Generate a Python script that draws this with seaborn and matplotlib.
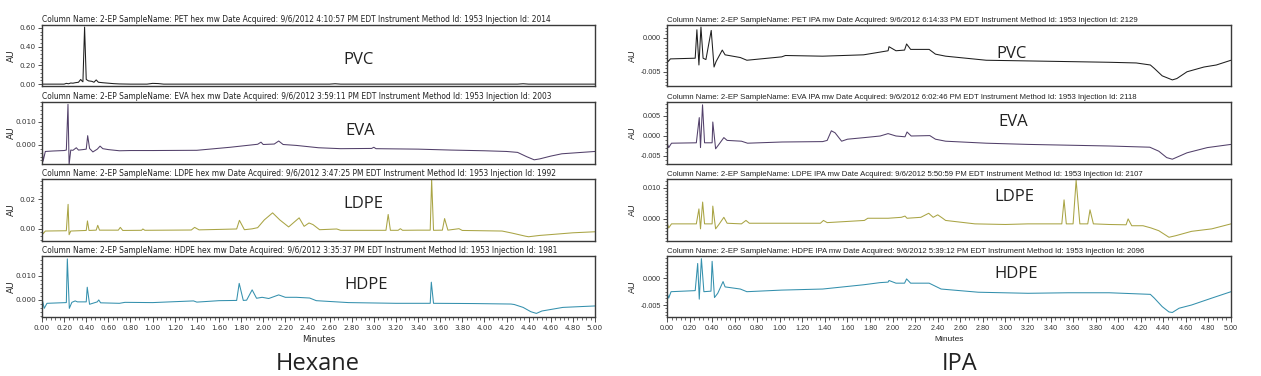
import matplotlib
matplotlib.use("Agg")
import matplotlib.pyplot as plt
from matplotlib.ticker import AutoMinorLocator, MultipleLocator, FormatStrFormatter
import seaborn as sns

# ---- chromatogram traces (minutes, AU) ----
hex_pvc_t = [0.00, 0.20, 0.22, 0.24, 0.26, 0.28, 0.30, 0.33, 0.35, 0.36, 0.37, 0.385, 0.40, 0.42, 0.45,
             0.47, 0.49, 0.51, 0.55, 0.60, 0.65, 0.70, 0.80, 0.95, 1.00, 1.05, 1.10, 1.50, 2.60, 2.65,
             2.70, 4.30, 4.35, 4.40, 5.00]
hex_pvc_au = [0.000, 0.000, 0.008, 0.004, 0.012, 0.010, 0.015, 0.020, 0.050, 0.035, 0.025, 0.610, 0.050,
              0.035, 0.030, 0.020, 0.045, 0.020, 0.015, 0.010, 0.005, 0.002, 0.000, 0.000, 0.008, 0.006,
              0.000, 0.000, 0.000, 0.004, 0.000, 0.000, 0.004, 0.000, 0.000]

hex_eva_t = [0.00, 0.01, 0.03, 0.10, 0.20, 0.22, 0.235, 0.245, 0.26, 0.28, 0.31, 0.33, 0.37, 0.40, 0.413,
             0.43, 0.46, 0.50, 0.525, 0.55, 0.60, 0.70, 0.80, 1.00, 1.40, 1.70, 1.95, 1.98, 2.00, 2.10,
             2.14, 2.18, 2.30, 2.50, 2.70, 2.98, 3.00, 3.02, 3.40, 3.70, 4.00, 4.20, 4.30, 4.38, 4.45,
             4.50, 4.60, 4.70, 4.85, 5.00]
hex_eva_au = [0.0010, -0.0070, -0.0028, -0.0026, -0.0024, -0.0022, 0.0175, -0.0085, -0.0022, -0.0023,
              -0.0012, -0.0022, -0.0020, -0.0018, 0.0040, -0.0015, -0.0030, -0.0018, -0.0005, -0.0016,
              -0.0020, -0.0025, -0.0024, -0.0024, -0.0023, -0.0010, 0.0003, 0.0012, 0.0002, 0.0004,
              0.0017, 0.0002, -0.0002, -0.0012, -0.0016, -0.0015, -0.0010, -0.0016, -0.0018, -0.0022,
              -0.0025, -0.0028, -0.0032, -0.0050, -0.0064, -0.0060, -0.0048, -0.0038, -0.0033, -0.0028]

hex_ldpe_t = [0.00, 0.01, 0.03, 0.22, 0.236, 0.245, 0.26, 0.40, 0.411, 0.425, 0.49, 0.504, 0.52, 0.69,
              0.708, 0.73, 0.90, 0.912, 0.93, 1.35, 1.38, 1.42, 1.60, 1.76, 1.785, 1.83, 1.90, 1.95, 2.01,
              2.085, 2.15, 2.23, 2.325, 2.37, 2.414, 2.45, 2.51, 2.665, 2.70, 3.11, 3.13, 3.15, 3.22,
              3.24, 3.26, 3.40, 3.51, 3.523, 3.54, 3.62, 3.64, 3.67, 3.77, 3.80, 4.16, 4.25, 4.37, 4.40,
              4.50, 4.62, 4.80, 5.00]
hex_ldpe_au = [-0.0010, -0.0035, -0.0016, -0.0014, 0.0166, -0.0041, -0.0016, -0.0012, 0.0053, -0.0012,
               -0.0010, 0.0023, -0.0010, -0.0010, 0.0009, -0.0012, -0.0011, -0.0002, -0.0011, -0.0009,
               0.0009, -0.0008, -0.0005, -0.0002, 0.0057, -0.0007, -0.0001, 0.0007, 0.0060, 0.0108,
               0.0060, 0.0012, 0.0074, 0.0016, 0.0039, 0.0028, -0.0007, -0.0002, -0.0011, -0.0011,
               0.0097, -0.0011, -0.0011, 0.0000, -0.0011, -0.0010, -0.0010, 0.0335, -0.0011, -0.0010,
               0.0069, -0.0010, 0.0000, -0.0012, -0.0016, -0.0030, -0.0051, -0.0055, -0.0046, -0.0039,
               -0.0028, -0.0021]

hex_hdpe_t = [0.00, 0.02, 0.045, 0.22, 0.229, 0.247, 0.27, 0.30, 0.32, 0.40, 0.409, 0.43, 0.50, 0.513,
              0.53, 0.70, 0.75, 1.00, 1.37, 1.40, 1.60, 1.76, 1.783, 1.82, 1.85, 1.90, 1.94, 1.99, 2.05,
              2.14, 2.20, 2.30, 2.42, 2.48, 2.77, 3.20, 3.51, 3.52, 3.54, 3.90, 4.24, 4.27, 4.35, 4.42,
              4.47, 4.52, 4.71, 5.00]
hex_hdpe_au = [0.0007, -0.0035, -0.0014, -0.0011, 0.0171, -0.0035, -0.0010, -0.0004, -0.0008, -0.0008,
               0.0053, -0.0018, -0.0008, 0.0000, -0.0012, -0.0014, -0.0010, -0.0011, -0.0004, -0.0009,
               -0.0003, -0.0002, 0.0069, -0.0002, -0.0001, 0.0042, 0.0007, 0.0011, 0.0006, 0.0021,
               0.0011, 0.0011, 0.0008, -0.0003, -0.0011, -0.0014, -0.0014, 0.0074, -0.0014, -0.0015,
               -0.0017, -0.0019, -0.0031, -0.0049, -0.0056, -0.0046, -0.0031, -0.0025]

ipa_pvc_t = [0.00, 0.01, 0.03, 0.25, 0.265, 0.283, 0.301, 0.32, 0.345, 0.392, 0.417, 0.435, 0.49, 0.515,
             0.65, 0.708, 1.017, 1.05, 1.38, 1.743, 1.888, 1.96, 1.968, 2.03, 2.106, 2.124, 2.16, 2.25,
             2.324, 2.38, 2.47, 2.83, 3.20, 3.56, 3.92, 4.16, 4.285, 4.32, 4.39, 4.48, 4.52, 4.61, 4.76,
             4.87, 5.00]
ipa_pvc_au = [-0.0030, -0.0035, -0.0031, -0.0030, 0.0012, -0.0040, 0.0016, -0.0030, -0.0032, 0.0011,
              -0.0043, -0.0035, -0.0018, -0.0025, -0.0029, -0.0033, -0.0028, -0.0026, -0.0027, -0.0025,
              -0.0021, -0.0019, -0.0013, -0.0019, -0.0018, -0.0009, -0.0017, -0.0017, -0.0017, -0.0024,
              -0.0027, -0.0033, -0.0034, -0.0035, -0.0036, -0.0037, -0.0040, -0.0045, -0.0056, -0.0062,
              -0.0060, -0.0050, -0.0043, -0.0040, -0.0033]

ipa_eva_t = [0.00, 0.015, 0.04, 0.26, 0.286, 0.297, 0.315, 0.333, 0.40, 0.406, 0.431, 0.46, 0.504, 0.533,
             0.66, 0.714, 1.02, 1.38, 1.42, 1.457, 1.49, 1.548, 1.60, 1.75, 1.89, 1.96, 2.03, 2.11, 2.128,
             2.165, 2.33, 2.38, 2.47, 2.83, 3.20, 3.56, 3.92, 4.28, 4.36, 4.43, 4.48, 4.61, 4.79, 5.00]
ipa_eva_au = [-0.0017, -0.0029, -0.0018, -0.0017, 0.0046, -0.0029, 0.0078, -0.0017, -0.0017, 0.0035,
              -0.0032, -0.0021, -0.0004, -0.0011, -0.0013, -0.0018, -0.0015, -0.0014, -0.0011, 0.0013,
              0.0008, -0.0013, -0.0008, -0.0004, 0.0000, 0.0006, 0.0000, -0.0002, 0.0010, 0.0000,
              0.0001, -0.0008, -0.0013, -0.0018, -0.0021, -0.0023, -0.0025, -0.0028, -0.0038, -0.0054,
              -0.0058, -0.0042, -0.0029, -0.0021]

ipa_ldpe_t = [0.00, 0.015, 0.04, 0.26, 0.283, 0.297, 0.316, 0.333, 0.40, 0.406, 0.431, 0.46, 0.504, 0.533,
              0.66, 0.70, 0.73, 1.02, 1.36, 1.387, 1.42, 1.75, 1.78, 1.96, 2.077, 2.11, 2.128, 2.25, 2.32,
              2.36, 2.40, 2.44, 2.47, 2.73, 3.00, 3.20, 3.42, 3.50, 3.52, 3.54, 3.60, 3.627, 3.66, 3.73,
              3.75, 3.78, 3.92, 4.07, 4.088, 4.12, 4.22, 4.29, 4.36, 4.45, 4.51, 4.65, 4.83, 5.00]
ipa_ldpe_au = [-0.0011, -0.0029, -0.0016, -0.0016, 0.0032, -0.0032, 0.0054, -0.0016, -0.0016, 0.0041,
               -0.0032, -0.0018, 0.0005, -0.0014, -0.0016, -0.0005, -0.0014, -0.0014, -0.0014, -0.0005,
               -0.0012, -0.0005, 0.0002, 0.0002, 0.0005, 0.0009, 0.0002, 0.0005, 0.0018, 0.0005,
               0.0013, 0.0003, -0.0005, -0.0016, -0.0018, -0.0016, -0.0016, -0.0016, 0.0061, -0.0016,
               -0.0016, 0.0124, -0.0016, -0.0016, 0.0029, -0.0016, -0.0018, -0.0019, 0.0000, -0.0022,
               -0.0022, -0.0029, -0.0038, -0.0059, -0.0054, -0.0040, -0.0032, -0.0016]

ipa_hdpe_t = [0.00, 0.015, 0.036, 0.25, 0.272, 0.286, 0.305, 0.327, 0.39, 0.40, 0.421, 0.45, 0.497, 0.515,
              0.65, 0.708, 1.017, 1.38, 1.743, 1.888, 1.96, 1.968, 2.03, 2.106, 2.124, 2.16, 2.324, 2.43,
              2.76, 3.20, 3.56, 3.92, 4.285, 4.32, 4.39, 4.45, 4.48, 4.54, 4.65, 4.83, 5.00]
ipa_hdpe_au = [-0.0027, -0.0037, -0.0025, -0.0023, 0.0028, -0.0039, 0.0037, -0.0025, -0.0024, 0.0032,
               -0.0036, -0.0028, -0.0006, -0.0016, -0.0020, -0.0025, -0.0022, -0.0020, -0.0012, -0.0008,
               -0.0007, -0.0004, -0.0009, -0.0009, -0.0001, -0.0009, -0.0009, -0.0020, -0.0026, -0.0028,
               -0.0027, -0.0027, -0.0030, -0.0037, -0.0053, -0.0063, -0.0064, -0.0056, -0.0050, -0.0037,
               -0.0025]

samples = ["PVC", "EVA", "LDPE", "HDPE"]
solvents = ["Hexane", "IPA"]

hex_titles = [
    "Column Name: 2-EP SampleName: PET hex mw Date Acquired: 9/6/2012 4:10:57 PM EDT Instrument Method Id: 1953 Injection Id: 2014",
    "Column Name: 2-EP SampleName: EVA hex mw Date Acquired: 9/6/2012 3:59:11 PM EDT Instrument Method Id: 1953 Injection Id: 2003",
    "Column Name: 2-EP SampleName: LDPE hex mw Date Acquired: 9/6/2012 3:47:25 PM EDT Instrument Method Id: 1953 Injection Id: 1992",
    "Column Name: 2-EP SampleName: HDPE hex mw Date Acquired: 9/6/2012 3:35:37 PM EDT Instrument Method Id: 1953 Injection Id: 1981",
]
ipa_titles = [
    "Column Name: 2-EP SampleName: PET IPA mw Date Acquired: 9/6/2012 6:14:33 PM EDT Instrument Method Id: 1953 Injection Id: 2129",
    "Column Name: 2-EP SampleName: EVA IPA mw Date Acquired: 9/6/2012 6:02:46 PM EDT Instrument Method Id: 1953 Injection Id: 2118",
    "Column Name: 2-EP SampleName: LDPE IPA mw Date Acquired: 9/6/2012 5:50:59 PM EDT Instrument Method Id: 1953 Injection Id: 2107",
    "Column Name: 2-EP SampleName: HDPE IPA mw Date Acquired: 9/6/2012 5:39:12 PM EDT Instrument Method Id: 1953 Injection Id: 2096",
]

hex_yticks = [[0.0, 0.2, 0.4, 0.6], [0.0, 0.01], [0.0, 0.02], [0.0, 0.01]]
ipa_yticks = [[-0.005, 0.0], [-0.005, 0.0, 0.005], [0.0, 0.01], [-0.005, 0.0]]

# ---- styling ----
sns.set_style("ticks")
plt.rcParams.update({
    "axes.unicode_minus": False,
    "axes.edgecolor": "#3a3a3a",
    "axes.linewidth": 1.0,
    "xtick.color": "#333333",
    "ytick.color": "#333333",
})

trace_colors = ["#1e1e1e", "#52406a", "#a9a444", "#3490ad"]
hex_ylims = [(-0.02, 0.632), (-0.0082, 0.0185), (-0.0084, 0.0339), (-0.0071, 0.0183)]
ipa_ylims = [(-0.0071, 0.0019), (-0.0070, 0.0085), (-0.0071, 0.0128), (-0.00725, 0.0042)]
hex_fmt = ["%.2f", "%.3f", "%.2f", "%.3f"]
ipa_fmt = ["%.3f", "%.3f", "%.3f", "%.3f"]
hex_minor = [5, 6, 8, 6]
ipa_minor = [10, 5, 10, 8]
hex_label_pos = [(0.573, 0.43), (0.575, 0.53), (0.582, 0.60), (0.586, 0.53)]
ipa_label_pos = [(0.611, 0.52), (0.614, 0.68), (0.616, 0.71), (0.619, 0.70)]

W, H = 1261, 376
row_top = [25, 102, 179, 256]
row_bot = [86, 164, 241, 317]
col_px = {"Hexane": (42, 595), "IPA": (667, 1231)}
solvent_x = {"Hexane": 318, "IPA": 960}

traces = {
    "Hexane": [(hex_pvc_t, hex_pvc_au), (hex_eva_t, hex_eva_au), (hex_ldpe_t, hex_ldpe_au), (hex_hdpe_t, hex_hdpe_au)],
    "IPA": [(ipa_pvc_t, ipa_pvc_au), (ipa_eva_t, ipa_eva_au), (ipa_ldpe_t, ipa_ldpe_au), (ipa_hdpe_t, ipa_hdpe_au)],
}
panel_cfg = {
    "Hexane": dict(titles=hex_titles, yticks=hex_yticks, ylims=hex_ylims, fmt=hex_fmt, minor=hex_minor,
                   labels=hex_label_pos, font="DejaVu Sans", tsize=5.43, ausx=-0.047),
    "IPA": dict(titles=ipa_titles, yticks=ipa_yticks, ylims=ipa_ylims, fmt=ipa_fmt, minor=ipa_minor,
                labels=ipa_label_pos, font="Liberation Sans", tsize=5.6, ausx=-0.053),
}

fig = plt.figure(figsize=(W / 100, H / 100), dpi=100)

for solvent in solvents:
    x0, x1 = col_px[solvent]
    cfg = panel_cfg[solvent]
    for i, name in enumerate(samples):
        ax = fig.add_axes([x0 / W, 1 - row_bot[i] / H, (x1 - x0) / W, (row_bot[i] - row_top[i]) / H])
        t, au = traces[solvent][i]
        sns.lineplot(x=t, y=au, ax=ax, color=trace_colors[i], linewidth=0.75, estimator=None, sort=False)

        ax.set_xlim(0, 5)
        ax.set_ylim(*cfg["ylims"][i])
        ax.set_yticks(cfg["yticks"][i])
        ax.yaxis.set_major_formatter(FormatStrFormatter(cfg["fmt"][i]))
        ax.yaxis.set_minor_locator(AutoMinorLocator(cfg["minor"][i]))
        ax.tick_params(axis="y", which="major", length=3, width=0.6, labelsize=5.2, pad=1.5)
        ax.tick_params(axis="y", which="minor", length=1.6, width=0.5)
        for lab in ax.get_yticklabels():
            lab.set_fontfamily(cfg["font"])

        ax.set_ylabel("AU", fontsize=6.5, family=cfg["font"])
        ax.yaxis.set_label_coords(cfg["ausx"], 0.5)

        ax.set_title(cfg["titles"][i], loc="left", fontsize=cfg["tsize"], pad=2.5, family=cfg["font"], color="#222222")
        lx, ly = cfg["labels"][i]
        ax.text(lx, ly, name, transform=ax.transAxes, ha="center", va="center",
                fontsize=12, family="Open Sans", color="#222222")

        if i == 3:
            ax.xaxis.set_major_locator(MultipleLocator(0.2))
            ax.xaxis.set_minor_locator(MultipleLocator(0.04))
            ax.xaxis.set_major_formatter(FormatStrFormatter("%.2f"))
            ax.tick_params(axis="x", which="major", length=3.5, width=0.6, labelsize=5.2, pad=2)
            ax.tick_params(axis="x", which="minor", length=2, width=0.5)
            for lab in ax.get_xticklabels():
                lab.set_fontfamily(cfg["font"])
            ax.set_xlabel("Minutes", fontsize=6, family=cfg["font"], labelpad=3)
        else:
            ax.tick_params(axis="x", which="both", bottom=False, labelbottom=False)
            ax.set_xlabel("")

        for sp in ax.spines.values():
            sp.set_visible(True)

    fig.text(solvent_x[solvent] / W, 1 - 364 / H, solvent, ha="center", va="center",
             fontsize=17, family="Open Sans", color="#222222")

fig.savefig("out.png", dpi=100)
